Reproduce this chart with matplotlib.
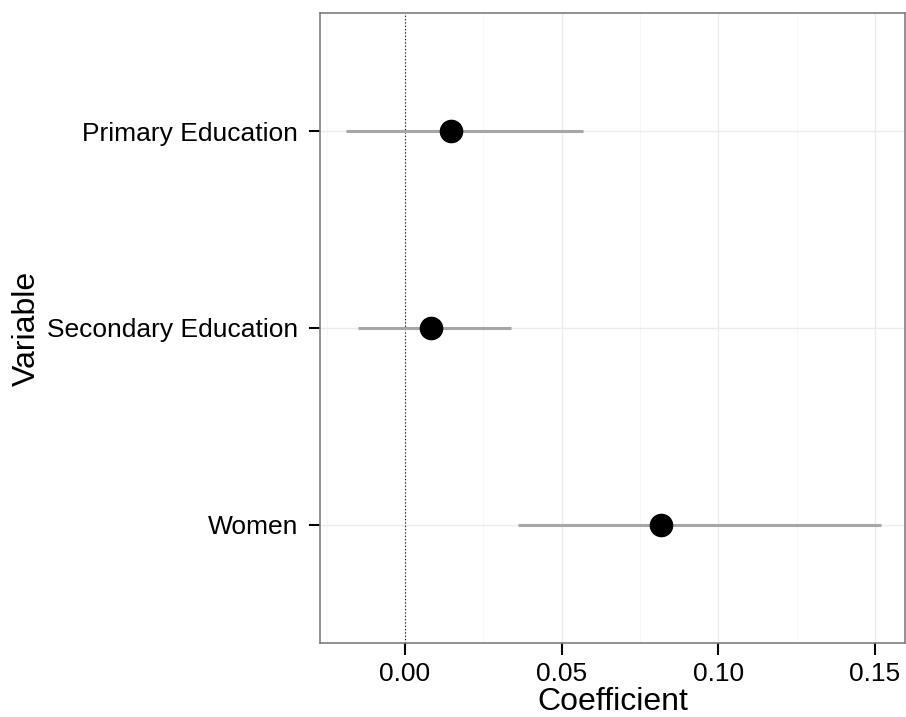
import matplotlib.pyplot as plt
import numpy as np

plt.rcParams['font.family'] = ['Liberation Sans', 'DejaVu Sans']

variables = ["Women", "Secondary Education", "Primary Education"]
coef = [0.0816, 0.0083, 0.0147]
lower = [0.0362, -0.0150, -0.0188]
upper = [0.1518, 0.0338, 0.0568]

fig = plt.figure(figsize=(9.06, 7.17), dpi=100)
ax = fig.add_axes([320 / 906, 1 - 643 / 717, 585 / 906, 630 / 717])

ypos = np.arange(1, len(variables) + 1)

# grid
for x in [-0.025, 0.025, 0.075, 0.125]:
    ax.axvline(x, color='#f5f5f5', lw=0.6, zorder=0)
for x in [0.0, 0.05, 0.10, 0.15]:
    ax.axvline(x, color='#ebebeb', lw=1.0, zorder=0)
for y in ypos:
    ax.axhline(y, color='#ebebeb', lw=1.0, zorder=0)

ax.axvline(0, color='black', lw=0.8, ls=(0, (1, 2)), zorder=1)

ax.hlines(ypos, lower, upper, color='#a6a6a6', lw=2.2, zorder=2)
ax.plot(coef, ypos, 'o', color='black', ms=16, zorder=3)

ax.set_xlim(-0.0271, 0.1596)
ax.set_ylim(0.4, 3.6)
ax.set_xticks([0.0, 0.05, 0.10, 0.15])
ax.set_xticklabels(["0.00", "0.05", "0.10", "0.15"])
ax.set_yticks(ypos)
ax.set_yticklabels(variables)
ax.tick_params(labelsize=19, width=1.5, color='black', labelcolor='black')
ax.tick_params(axis='x', length=8.5, pad=5)
ax.tick_params(axis='y', length=8, pad=7.8)

for s in ax.spines.values():
    s.set_color('#7f7f7f')
    s.set_linewidth(1.2)

ax.set_xlabel("Coefficient", fontsize=23, labelpad=1)
ax.set_ylabel("Variable", fontsize=23, labelpad=4)

fig.savefig("out.png", dpi=100)
